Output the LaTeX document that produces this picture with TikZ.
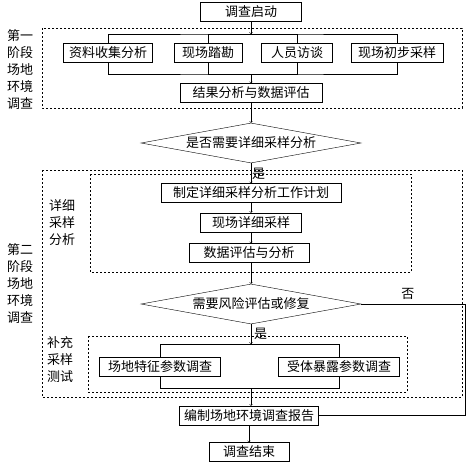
\documentclass[tikz,border=0pt]{standalone}
\usepackage{fontspec}
\setmainfont{Noto Sans CJK SC}
\usetikzlibrary{shapes.geometric}

\begin{document}
\begin{tikzpicture}[x=1pt, y=-1pt,
	box/.style={draw, minimum height=19pt, inner sep=1pt, font=\fontsize{13}{15}\selectfont},
	choice/.style={draw, diamond, aspect=5.5, inner sep=0pt, minimum width=220pt, minimum height=40pt, font=\fontsize{13}{15}\selectfont},
	side/.style={align=center, inner sep=0pt, font=\fontsize{13}{17}\selectfont},
	zone/.style={draw, dash pattern=on 2pt off 2pt}]
	\useasboundingbox (0,0) rectangle (470,464);
	% stage frames
	\draw[zone] (42,28) rectangle (462,108);
	\draw[zone] (42,170) rectangle (462,397);
	\draw[zone] (90,174) rectangle (411,272);
	\draw[zone] (88,336) rectangle (407,392);
	\node[side] (s1) at (20,70) {第一\\阶段\\场地\\环境\\调查};
	\node[side] (s2) at (20,284) {第二\\阶段\\场地\\环境\\调查};
	\node[side] (p1) at (62,223) {详细\\采样\\分析};
	\node[side] (p2) at (60,360) {补充\\采样\\测试};
	% boxes
	\node[box, minimum width=101pt] (start) at (251,12) {调查启动};
	\node[box, minimum width=89pt] (zl) at (108,53) {资料收集分析};
	\node[box, minimum width=68pt] (xc) at (208,53) {现场踏勘};
	\node[box, minimum width=71pt] (ry) at (297,53) {人员访谈};
	\node[box, minimum width=92pt] (cb) at (397,53) {现场初步采样};
	\node[box, minimum width=142pt] (jg) at (251,93) {结果分析与数据评估};
	\node[choice] (d1) at (251,143) {是否需要详细采样分析};
	\node[box, minimum width=180pt] (zd) at (251,193) {制定详细采样分析工作计划};
	\node[box, minimum width=101pt] (xx) at (251,222.5) {现场详细采样};
	\node[box, minimum width=120pt] (sj) at (249,253) {数据评估与分析};
	\node[choice] (d2) at (251,304) {需要风险评估或修复};
	\node[box, minimum width=121pt] (cd) at (160,366.5) {场地特征参数调查};
	\node[box, minimum width=121pt] (st) at (339,366.5) {受体暴露参数调查};
	\node[box, minimum width=139pt] (bz) at (249,415.5) {编制场地环境调查报告};
	\node[box, minimum width=80pt] (end) at (249,452) {调查结束};
	% joints
	\coordinate (t1) at (251,34);
	\coordinate (b1) at (251,74);
	\coordinate (t2) at (251,344);
	\coordinate (b2) at (251,388);
	\coordinate (r1) at (465,304);
	\coordinate (r2) at (465,413);
	% connectors
	\draw[->] (start) -- (t1);
	\draw (zl.north) |- (t1) -| (cb.north);
	\draw (xc.north) |- (t1);
	\draw (ry.north) |- (t1);
	\draw (zl.south) |- (b1) -| (cb.south);
	\draw (xc.south) |- (b1);
	\draw (ry.south) |- (b1);
	\draw[->] (b1) -- (jg);
	\draw[->] (jg) -- (d1);
	\draw[->] (d1.south) -- node[right, inner sep=1pt, pos=0.55, font=\fontsize{13}{15}\selectfont] {是} (d1.south |- zd.north);
	\draw[->] (zd.south -| xx) -- (xx);
	\draw[->] (xx.south) -- (xx.south |- sj.north);
	\draw[->] (sj.south -| d2.north) -- (d2.north);
	\draw[->] (d2.south) -- node[right, inner sep=3pt, pos=0.5, font=\fontsize{13}{15}\selectfont] {是} (t2);
	\draw (cd.north) |- (t2) -| (st.north);
	\draw (cd.south) |- (b2) -| (st.south);
	\draw[->] (b2) -- (b2 |- bz.north);
	\draw[->] (bz) -- (end);
	\draw (d2.east) -- node[above, pos=0.45, inner sep=4pt, font=\fontsize{13}{15}\selectfont] {否} (r1) |- (bz.east);
\end{tikzpicture}
\end{document}
